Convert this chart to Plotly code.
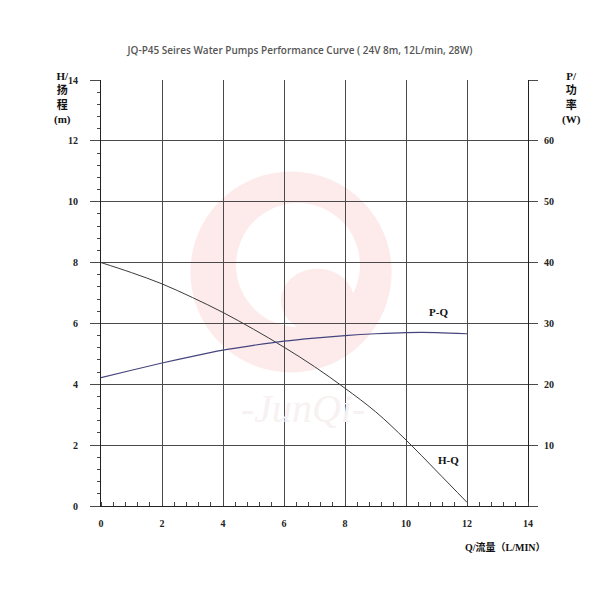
import plotly.graph_objects as go

# ---- data ----
flow = [0, 1, 2, 3, 4, 5, 6, 7, 8, 9, 10, 11, 12]               # Q, L/min
head = [8.0, 7.67, 7.3, 6.85, 6.36, 5.81, 5.22, 4.58, 3.87, 3.10, 2.17, 1.15, 0.12]  # H, m
power = [21.1, 22.3, 23.5, 24.6, 25.6, 26.4, 27.1, 27.6, 28.0, 28.3, 28.5, 28.5, 28.3]  # P, W
x_ticks = [0, 2, 4, 6, 8, 10, 12, 14]
y_ticks = [0, 2, 4, 6, 8, 10, 12, 14]
y2_ticks = [0, 10, 20, 30, 40, 50, 60, 70]
y2_text = ["", "10", "20", "30", "40", "50", "60", ""]

OFF = 8  # page body margin
L, R, T, B = 101 - OFF, 600 - 528 + OFF, 80 - OFF, 600 - 506 + OFF
PW, PH = 600 - L - R, 600 - T - B
def px(xp): return (xp - OFF - L) / PW
def py(yp): return (600 - B - (yp - OFF)) / PH

serif = "Liberation Serif, DejaVu Serif, Noto Sans CJK SC"
grid = "#4a4a4a"

fig = go.Figure()
fig.add_trace(go.Scatter(x=flow, y=head, mode="lines", line=dict(color="#3a3a3a", width=1, shape="spline"),
                         showlegend=False, yaxis="y"))
fig.add_trace(go.Scatter(x=flow, y=power, mode="lines", line=dict(color="#45457e", width=1.2, shape="spline"),
                         showlegend=False, yaxis="y2"))

# watermark
pink = "#fdebeb"
fig.add_shape(type="circle", xref="x", yref="y", x0=2.93, x1=9.53, y0=4.39, y1=10.99,
              fillcolor=pink, line=dict(width=0), layer="below")
fig.add_shape(type="circle", xref="x", yref="y", x0=4.43, x1=8.49, y0=5.88, y1=9.96,
              fillcolor="white", line=dict(width=0), layer="below")
fig.add_shape(type="circle", xref="x", yref="y", x0=5.9, x1=8.3, y0=5.7, y1=7.8,
              fillcolor=pink, line=dict(width=0), layer="below")
fig.add_annotation(x=px(303), y=py(408), xref="paper", yref="paper", text="<i>-JunQi-</i>", showarrow=False,
                   font=dict(family="Liberation Serif", size=40, color="#f7f1f1"),
                   xanchor="center", yanchor="middle")

fig.update_layout(
    width=600, height=600,
    margin=dict(l=L, r=R, t=T, b=B, autoexpand=False),
    paper_bgcolor="white", plot_bgcolor="white",
    title=dict(text="JQ-P45 Seires Water Pumps Performance Curve ( 24V 8m, 12L/min, 28W)",
               x=(300 - OFF) / 600, xanchor="center", y=1 - (50 - OFF) / 600, yanchor="middle", automargin=False,
               font=dict(family="Open Sans", size=10, color="#555555", weight=600)),
    xaxis=dict(range=[0, 14], tickvals=x_ticks, showgrid=True, gridcolor=grid, gridwidth=1,
               showline=True, linecolor="#222", linewidth=1, mirror=False, zeroline=False,
               ticks="", ticklabelstandoff=8, automargin=False,
               tickfont=dict(family=serif, size=10, color="#222", weight="bold"),
               minor=dict(dtick=0.4, tick0=0, ticks="inside", ticklen=4, tickcolor="#444", showgrid=False)),
    yaxis=dict(range=[0, 14], tickvals=y_ticks, showgrid=True, gridcolor=grid, gridwidth=1,
               showline=True, linecolor="#222", linewidth=1, zeroline=False, automargin=False,
               ticks="outside", ticklen=10, tickcolor=grid, ticklabelstandoff=10,
               tickfont=dict(family=serif, size=10, color="#222", weight="bold"),
               minor=dict(dtick=0.4, tick0=0, ticks="outside", ticklen=3, tickcolor="#444", showgrid=False)),
    yaxis2=dict(range=[0, 70], tickvals=y2_ticks, ticktext=y2_text, overlaying="y", side="right",
                showgrid=False, showline=True, linecolor="#222", linewidth=1, zeroline=False, automargin=False,
                ticks="outside", ticklen=9, tickcolor=grid, ticklabelstandoff=4,
                tickfont=dict(family=serif, size=10, color="#222", weight="bold")),
)

lab_font = dict(family=serif, size=11, color="#111")
fig.add_annotation(x=px(62), y=py(98), xref="paper", yref="paper", text="<b>H/<br>扬<br>程<br>(m)</b>",
                   showarrow=False, font=lab_font, align="center", xanchor="center", yanchor="middle")
fig.add_annotation(x=px(571), y=py(98), xref="paper", yref="paper", text="<b>P/<br>功<br>率<br>(W)</b>",
                   showarrow=False, font=lab_font, align="center", xanchor="center", yanchor="middle")
fig.add_annotation(x=px(505), y=py(547), xref="paper", yref="paper", text="<b>Q/流量（L/MIN）</b>",
                   showarrow=False, font=dict(family=serif, size=10, color="#111"), xanchor="center", yanchor="middle")
fig.add_annotation(x=11.05, y=6.37, xref="x", yref="y", text="<b>P-Q</b>", showarrow=False,
                   font=dict(family=serif, size=11, color="#111"))
fig.add_annotation(x=11.4, y=1.51, xref="x", yref="y", text="<b>H-Q</b>", showarrow=False,
                   font=dict(family=serif, size=11, color="#111"))

fig.write_html("out.html")
